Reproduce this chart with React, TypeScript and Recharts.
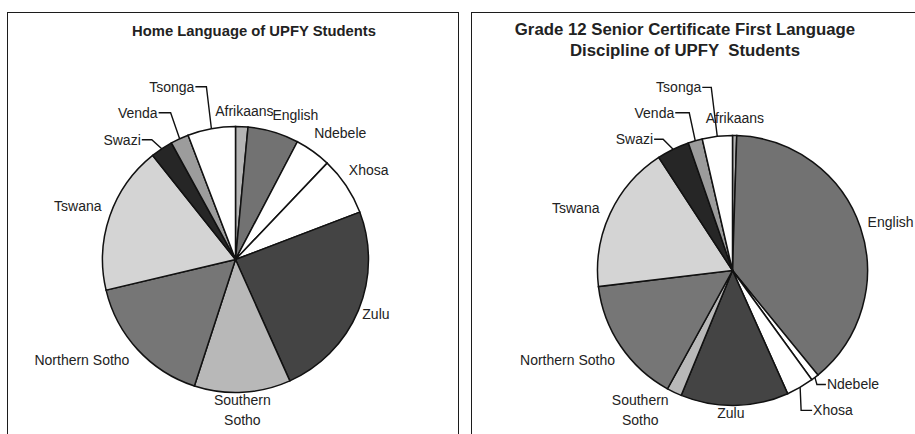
import React from 'react';
import { PieChart, Pie, Cell } from 'recharts';

// languages, clockwise from 12 o'clock
const LANGUAGES = [
    'Afrikaans', 'English', 'Ndebele', 'Xhosa', 'Zulu', 'Southern Sotho',
    'Northern Sotho', 'Tswana', 'Swazi', 'Venda', 'Tsonga'
];

// share of students (%)
const HOME_LANGUAGE = [1.5, 6.2, 4.4, 7.1, 24.1, 11.7, 16.3, 18.0, 2.7, 2.2, 5.8];
const GRADE12_FIRST_LANGUAGE = [0.5, 38.6, 0.9, 3.3, 12.9, 1.8, 15.1, 17.7, 3.9, 1.7, 3.6];

const HOME_TITLE = ['Home Language of UPFY Students'];
const GRADE12_TITLE = ['Grade 12 Senior Certificate First Language', 'Discipline of UPFY  Students'];

const FILLS: Record<string, string> = {
    'Afrikaans': '#b4b4b4',
    'English': '#727272',
    'Ndebele': '#ffffff',
    'Xhosa': '#ffffff',
    'Zulu': '#444444',
    'Southern Sotho': '#b8b8b8',
    'Northern Sotho': '#767676',
    'Tswana': '#d4d4d4',
    'Swazi': '#262626',
    'Venda': '#9c9c9c',
    'Tsonga': '#ffffff'
};

type Placement = {
    dx?: number; dy?: number; anchor?: 'start' | 'middle' | 'end';
    leader?: { drop: number; slant: number; run: number };
};

const HOME_LABELS: Record<string, Placement> = {
    'Afrikaans': { dx: 2, dy: -2 },
    'English': { dx: -5, dy: -4 },
    'Ndebele': { dx: -7, dy: -7 },
    'Xhosa': { dx: -9, dy: -8 },
    'Zulu': { dx: -9, dy: -2 },
    'Southern Sotho': { dx: -1, dy: -6, anchor: 'middle' },
    'Northern Sotho': { dx: 2, dy: 1 },
    'Tswana': { dx: 5, dy: -5 },
    'Swazi': { leader: { drop: -9, slant: -10, run: -10 } },
    'Venda': { leader: { drop: -26, slant: -9, run: -12 } },
    'Tsonga': { leader: { drop: -42, slant: -5, run: -11 } }
};

const GRADE12_LABELS: Record<string, Placement> = {
    'Afrikaans': { dy: -4 },
    'English': { dx: -6, dy: -1 },
    'Ndebele': { leader: { drop: 7, slant: 2, run: 9 } },
    'Xhosa': { leader: { drop: 23, slant: 1, run: 11 } },
    'Zulu': { dx: -4, dy: -6 },
    'Southern Sotho': { dx: -28, dy: -5, anchor: 'middle' },
    'Northern Sotho': { dx: 6, dy: 6 },
    'Tswana': { dx: 2, dy: 1 },
    'Swazi': { leader: { drop: -10, slant: -10, run: -9 } },
    'Venda': { leader: { drop: -28, slant: -6, run: -14 } },
    'Tsonga': { leader: { drop: -49, slant: -6, run: -9 } }
};

const RADIAN = Math.PI / 180;
const FONT = '"Liberation Sans", Arial, sans-serif';
const LABEL_SIZE = 14;

const makeLabel = (placements: Record<string, Placement>) => (props: any) => {
    const { cx, cy, midAngle, outerRadius } = props;
    const name: string = props.payload?.name ?? props.name;
    const p = placements[name] || {};
    const cos = Math.cos(-midAngle * RADIAN);
    const sin = Math.sin(-midAngle * RADIAN);

    if (p.leader) {
        const x0 = cx + outerRadius * cos;
        const y0 = cy + outerRadius * sin;
        const x1 = x0 + p.leader.slant;
        const y1 = y0 + p.leader.drop;
        const x2 = x1 + p.leader.run;
        const right = p.leader.run > 0;
        return (
            <g>
                <polyline points={`${x0},${y0} ${x1},${y1} ${x2},${y1}`} fill="none" stroke="#111" strokeWidth={1.4} />
                <text x={x2 + (right ? 1 : -1)} y={y1} textAnchor={right ? 'start' : 'end'} dominantBaseline="central"
                    fontSize={LABEL_SIZE} fontFamily={FONT} fill="#222">{name}</text>
            </g>
        );
    }

    const r = outerRadius + 14;
    const x = cx + r * cos + (p.dx || 0);
    const y = cy + r * sin + (p.dy || 0);
    const anchor = p.anchor || (cos > 0.15 ? 'start' : cos < -0.15 ? 'end' : 'middle');
    const lines = anchor === 'middle' && name.includes(' ') ? name.split(' ') : [name];
    return (
        <text x={x} y={y} textAnchor={anchor} dominantBaseline="central" fontSize={LABEL_SIZE} fontFamily={FONT} fill="#222">
            {lines.map((line, i) => (
                <tspan key={line} x={x} dy={i === 0 ? 0 : 20}>{line}</tspan>
            ))}
        </text>
    );
};

const LanguagePie: React.FC<{
    values: number[]; title: string[]; labels: Record<string, Placement>;
    left: number; width: number; cx: number; cy: number; radius: number; titleX: number;
}> = ({ values, title, labels, left, width, cx, cy, radius, titleX }) => {
    const data = LANGUAGES.map((name, i) => ({ name, value: values[i] }));
    return (
        <div style={{
            position: 'absolute', left, top: 12, width, height: 440,
            borderTop: '1.5px solid #1c1c1c', borderLeft: '1.5px solid #1c1c1c',
            borderRight: left < 100 ? '1.5px solid #1c1c1c' : 'none', background: '#fff'
        }}>
            <div style={{
                position: 'absolute', left: titleX - 250, width: 500, top: title.length > 1 ? 6 : 8,
                textAlign: 'center', fontFamily: FONT, fontWeight: 'bold',
                fontSize: title.length > 1 ? 16.8 : 14.8, lineHeight: '21px', color: '#222'
            }}>
                {title.map(t => <div key={t} style={{ whiteSpace: 'pre' }}>{t}</div>)}
            </div>
            <div style={{ position: 'absolute', left: 0, top: 0 }}>
                <PieChart width={width} height={425}>
                    <Pie
                        data={data}
                        dataKey="value"
                        nameKey="name"
                        cx={cx}
                        cy={cy}
                        outerRadius={radius}
                        startAngle={90}
                        endAngle={-270}
                        stroke="#111"
                        strokeWidth={1.5}
                        label={makeLabel(labels)}
                        labelLine={false}
                        isAnimationActive={false}
                    >
                        {data.map(d => <Cell key={d.name} fill={FILLS[d.name]} />)}
                    </Pie>
                </PieChart>
            </div>
        </div>
    );
};

export default function App() {
    return (
        <div style={{ position: 'absolute', left: 0, top: 0, width: 915, height: 434, overflow: 'hidden', background: '#fff' }}>
            <LanguagePie values={HOME_LANGUAGE} title={HOME_TITLE} labels={HOME_LABELS}
                left={7} width={450} cx={222.5} cy={241.5} radius={133} titleX={246} />
            <LanguagePie values={GRADE12_FIRST_LANGUAGE} title={GRADE12_TITLE} labels={GRADE12_LABELS}
                left={471} width={460} cx={255.5} cy={252.5} radius={135} titleX={213} />
        </div>
    );
}
